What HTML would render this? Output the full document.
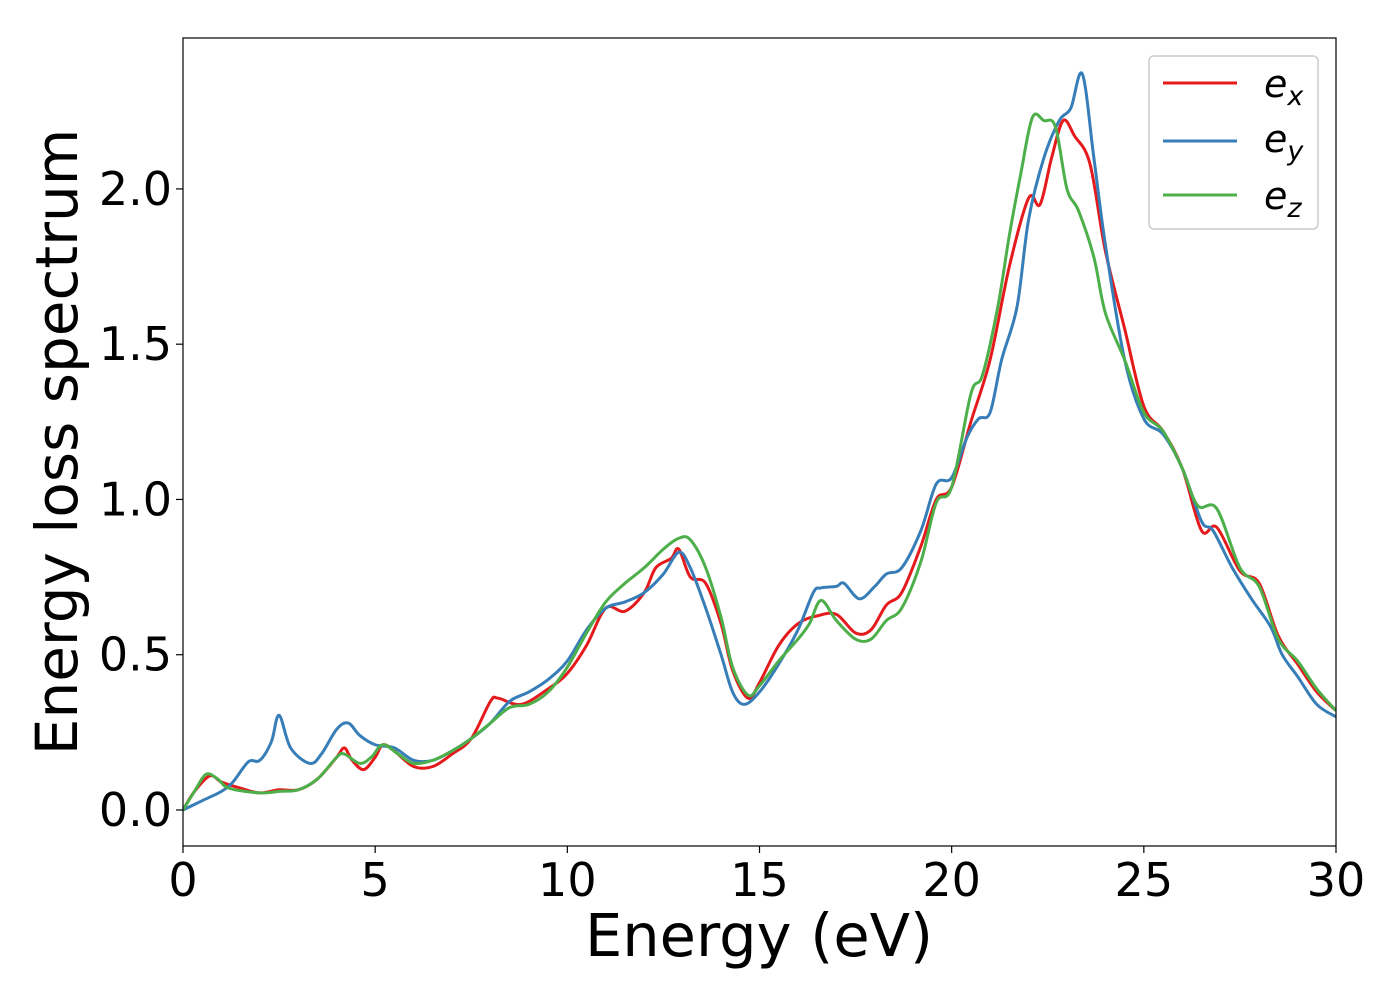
<!DOCTYPE html>
<html><head><meta charset="utf-8"><style>
html,body{margin:0;padding:0;background:#fff;}
svg{display:block;font-family:"DejaVu Sans","Liberation Sans",sans-serif;}
</style></head><body>
<svg id="chart" width="1400" height="1000" viewBox="0 0 1400 1000">
<rect x="0" y="0" width="1400" height="1000" fill="#fff"/>
<g id="plot"></g>
<g id="axes"></g>
<text x="759" y="956" font-size="59" text-anchor="middle" fill="#000">Energy (eV)</text>
<text transform="translate(77,442) rotate(-90)" font-size="58" text-anchor="middle" fill="#000">Energy loss spectrum</text>
<g>
<rect x="1149" y="56" width="169" height="173" rx="5" fill="#fff" fill-opacity="0.8" stroke="#ccc" stroke-width="1.5"/>
<g><line x1="1163" y1="83" x2="1237" y2="83" stroke="#e41a1c" stroke-width="3"/><text x="1264" y="97" font-size="38" font-style="italic" fill="#000">e<tspan font-size="27" dy="8">x</tspan></text></g>
<g><line x1="1163" y1="141" x2="1237" y2="141" stroke="#377eb8" stroke-width="3"/><text x="1264" y="152" font-size="38" font-style="italic" fill="#000">e<tspan font-size="27" dy="8">y</tspan></text></g>
<g><line x1="1163" y1="195" x2="1237" y2="195" stroke="#4daf4a" stroke-width="3"/><text x="1264" y="209" font-size="38" font-style="italic" fill="#000">e<tspan font-size="27" dy="8">z</tspan></text></g>
</g>
</svg>
<script>
const xTicks=[0,5,10,15,20,25,30];
const yTicks=[0.0,0.5,1.0,1.5,2.0];
const yTickLabels=["0.0","0.5","1.0","1.5","2.0"];
const exX=[0,0.3,0.7,1.0,1.5,2.0,2.5,3.0,3.5,4.0,4.2,4.4,4.7,5.0,5.2,5.5,6.0,6.5,7.0,7.5,8.0,8.2,8.8,9.5,10.0,10.5,11.0,11.5,12.0,12.3,12.7,12.9,13.2,13.6,14.0,14.3,14.7,15.0,15.5,16.0,16.5,17.0,17.5,17.9,18.3,18.7,19.2,19.6,20.0,20.5,21.0,21.5,22.0,22.3,22.6,22.9,23.2,23.6,24.0,24.5,25.0,25.5,26.0,26.5,26.9,27.5,28.0,28.5,29.0,29.5,30.0];
const exY=[0,0.06,0.11,0.09,0.07,0.055,0.065,0.065,0.10,0.17,0.20,0.16,0.13,0.17,0.21,0.19,0.14,0.14,0.18,0.23,0.35,0.36,0.34,0.39,0.44,0.53,0.65,0.64,0.70,0.78,0.81,0.84,0.75,0.73,0.60,0.45,0.36,0.41,0.53,0.60,0.625,0.63,0.57,0.58,0.66,0.70,0.85,1.00,1.04,1.25,1.45,1.75,1.97,1.95,2.10,2.22,2.17,2.08,1.80,1.55,1.30,1.22,1.10,0.90,0.91,0.77,0.73,0.56,0.47,0.38,0.32];
const eyX=[0,0.5,1.0,1.3,1.7,2.0,2.3,2.5,2.8,3.3,3.6,4.0,4.3,4.6,5.0,5.5,6.0,6.5,7.0,7.5,8.0,8.5,9.0,9.5,10.0,10.5,11.0,11.5,12.0,12.5,12.9,13.2,13.6,14.0,14.3,14.6,15.0,15.5,16.0,16.4,16.6,17.0,17.2,17.6,18.0,18.3,18.7,19.2,19.6,20.0,20.4,20.7,21.0,21.3,21.7,22.0,22.4,22.8,23.1,23.4,23.7,24.0,24.5,25.0,25.5,26.0,26.5,26.8,27.3,27.8,28.3,28.6,29.0,29.5,30.0];
const eyY=[0,0.03,0.06,0.09,0.155,0.16,0.22,0.305,0.20,0.15,0.18,0.26,0.28,0.24,0.21,0.20,0.16,0.16,0.19,0.23,0.28,0.35,0.38,0.42,0.48,0.58,0.65,0.67,0.70,0.76,0.83,0.78,0.65,0.50,0.38,0.34,0.38,0.47,0.58,0.70,0.715,0.72,0.73,0.68,0.72,0.76,0.78,0.90,1.05,1.07,1.20,1.26,1.28,1.45,1.62,1.90,2.10,2.22,2.26,2.37,2.10,1.82,1.45,1.26,1.21,1.10,0.93,0.90,0.78,0.68,0.59,0.50,0.43,0.34,0.30];
const ezX=[0,0.3,0.6,0.9,1.2,2.0,2.5,3.0,3.5,4.0,4.2,4.6,4.9,5.2,5.6,6.0,6.5,7.0,7.5,8.0,8.5,9.0,9.5,10.0,10.5,11.0,11.5,12.0,12.5,12.9,13.2,13.6,14.0,14.3,14.7,15.0,15.5,16.0,16.3,16.6,17.0,17.5,17.9,18.3,18.7,19.2,19.6,20.0,20.5,20.8,21.2,21.5,21.8,22.1,22.4,22.7,23.0,23.3,23.7,24.0,24.5,25.0,25.5,26.0,26.4,26.9,27.5,28.0,28.5,29.0,29.5,30.0];
const ezY=[0,0.06,0.115,0.10,0.07,0.055,0.06,0.065,0.10,0.17,0.18,0.15,0.17,0.21,0.18,0.15,0.16,0.19,0.23,0.28,0.33,0.34,0.38,0.46,0.57,0.67,0.73,0.78,0.84,0.875,0.87,0.78,0.62,0.46,0.37,0.40,0.48,0.55,0.60,0.675,0.61,0.55,0.55,0.61,0.65,0.80,0.99,1.04,1.34,1.40,1.62,1.85,2.05,2.23,2.22,2.20,2.00,1.93,1.78,1.60,1.45,1.28,1.22,1.10,0.98,0.97,0.78,0.72,0.55,0.48,0.39,0.32];

const L=183,R=1336,T=38,B=846,xMin=0,xMax=30,yMin=-0.116,yMax=2.486;
const sx=v=>L+(v-xMin)/(xMax-xMin)*(R-L);
const sy=v=>B-(v-yMin)/(yMax-yMin)*(B-T);
const NS="http://www.w3.org/2000/svg";
const plot=document.getElementById('plot'),axes=document.getElementById('axes');
function mk(tag,attrs,parent){const e=document.createElementNS(NS,tag);for(const k in attrs)e.setAttribute(k,attrs[k]);parent.appendChild(e);return e;}
function smooth(xs,ys){
  const p=xs.map((x,i)=>[sx(x),sy(ys[i])]);
  let d=`M${p[0][0]},${p[0][1]}`;
  for(let i=0;i<p.length-1;i++){
    const p0=p[Math.max(i-1,0)],p1=p[i],p2=p[i+1],p3=p[Math.min(i+2,p.length-1)];
    const c1=[p1[0]+(p2[0]-p0[0])/6,p1[1]+(p2[1]-p0[1])/6];
    const c2=[p2[0]-(p3[0]-p1[0])/6,p2[1]-(p3[1]-p1[1])/6];
    d+=` C${c1[0]},${c1[1]} ${c2[0]},${c2[1]} ${p2[0]},${p2[1]}`;
  }
  return d;
}
const series=[[exX,exY,'#e41a1c','line-ex'],[eyX,eyY,'#377eb8','line-ey'],[ezX,ezY,'#4daf4a','line-ez']];
mk('clipPath',{id:'clip'},plot);
mk('rect',{x:L,y:T,width:R-L,height:B-T},plot.lastChild);
for(const [xs,ys,c,n] of series){
  const el=mk('path',{d:smooth(xs,ys),fill:'none',stroke:c,'stroke-width':3,'stroke-linejoin':'round','clip-path':'url(#clip)'},plot);
  
  
}
const frame=mk('rect',{x:L,y:T,width:R-L,height:B-T,fill:'none',stroke:'#000','stroke-width':1.2},axes);


xTicks.forEach(v=>{
  const x=sx(v);
  mk('line',{x1:x,y1:B,x2:x,y2:B+7,stroke:'#000','stroke-width':1.2},axes);
  const t=mk('text',{x:x,y:B+50,'font-size':46,'text-anchor':'middle',fill:'#000'},axes);
  t.textContent=String(v);
  
  
});
yTicks.forEach((v,i)=>{
  const y=sy(v);
  mk('line',{x1:L-7,y1:y,x2:L,y2:y,stroke:'#000','stroke-width':1.2},axes);
  const t=mk('text',{x:L-11,y:y+16,'font-size':46,'text-anchor':'end',fill:'#000'},axes);
  t.textContent=yTickLabels[i];
  
  
});
</script>
</body></html>
